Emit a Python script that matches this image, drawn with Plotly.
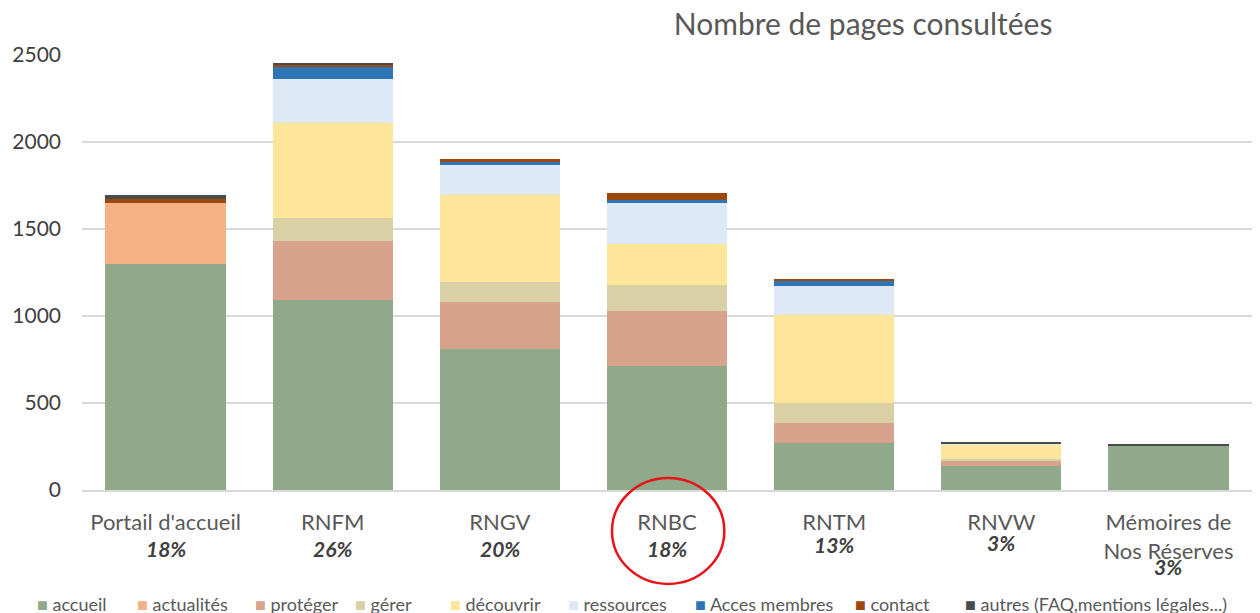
import plotly.graph_objects as go

categories = ["Portail d'accueil", "RNFM", "RNGV", "RNBC", "RNTM", "RNVW", "Mémoires de<br>Nos Réserves"]
percent_labels = ["18%", "26%", "20%", "18%", "13%", "3%", "3%"]

series_names = ["accueil", "actualités", "protéger", "gérer", "découvrir", "ressources",
                "Acces membres", "contact", "autres (FAQ,mentions légales...)"]

accueil = [1300, 1092, 810, 713, 270, 136, 255]
actualites = [350, 0, 0, 0, 0, 0, 0]
proteger = [0, 339, 270, 316, 117, 32, 0]
gerer = [0, 132, 115, 149, 111, 12, 0]
decouvrir = [0, 548, 502, 238, 508, 84, 0]
ressources = [0, 249, 169, 235, 166, 5, 0]
acces_membres = [0, 73, 19, 16, 31, 0, 0]
contact = [20, 10, 15, 38, 8, 0, 0]
autres = [25, 8, 0, 0, 0, 9, 9]

series_values = [accueil, actualites, proteger, gerer, decouvrir, ressources, acces_membres, contact, autres]
colors = ["#8FA98A", "#F4B183", "#D8A28D", "#DAD0A6", "#FDE59A", "#DDE9F6", "#2E75B6", "#9E480E", "#4A4A4A"]

y_ticks = [0, 500, 1000, 1500, 2000, 2500]

FONT = "Lato, Open Sans, sans-serif"

fig = go.Figure()
for name, vals, col in zip(series_names, series_values, colors):
    fig.add_trace(go.Bar(x=categories, y=vals, name=name, marker=dict(color=col, line=dict(width=0))))

# percentage labels under category names
pct_offsets = [-0.1356, -0.1356, -0.1356, -0.134, -0.1264, -0.1218, -0.177]
for cat, pct, off in zip(categories, percent_labels, pct_offsets):
    fig.add_annotation(x=cat, y=off, xref="x", yref="paper", text="<b><i>" + pct + "</i></b>",
                       showarrow=False, font=dict(size=21, color="#404040", family=FONT),
                       yanchor="middle")

# custom legend row (colored square + series name)
legend_px = [35, 135, 253, 353, 448, 566, 693, 853, 963]
for name, col, px in zip(series_names, colors, legend_px):
    fig.add_annotation(x=(px - 82) / 1170, y=-0.262, xref="paper", yref="paper",
                       text="<span style='color:" + col + "'>■</span> " + name,
                       showarrow=False, xanchor="left", yanchor="middle",
                       font=dict(size=18, color="#595959", family=FONT))

# red circle around RNBC
fig.add_shape(type="circle", xref="paper", yref="paper",
              x0=0.453, x1=0.549, y0=-0.216, y1=0.0276,
              line=dict(color="#E8141B", width=2.5))

fig.update_layout(
    barmode="stack",
    bargap=0.28,
    width=1252, height=605,
    margin=dict(l=74, r=8, t=47, b=123),
    paper_bgcolor="white", plot_bgcolor="white",
    font=dict(family=FONT, color="#595959", size=18),
    title=dict(text="Nombre de pages consultées", x=0.683, xanchor="center", y=0.972, yanchor="middle",
               xref="container", yref="container",
               font=dict(size=30, color="#595959", family=FONT)),
    showlegend=False,
    xaxis=dict(showgrid=False, showline=True, linecolor="#D9D9D9", linewidth=1.5, automargin=False,
               tickfont=dict(size=22, color="#595959", family=FONT), ticks="", ticklabelstandoff=12),
    yaxis=dict(range=[0, 2500], tickvals=y_ticks, showgrid=True, gridcolor="#D9D9D9", gridwidth=1.5,
               zeroline=False, ticks="", ticklabelstandoff=20, automargin=False,
               tickfont=dict(size=21, color="#404040", family=FONT)),
)

fig.write_html("out.html")
